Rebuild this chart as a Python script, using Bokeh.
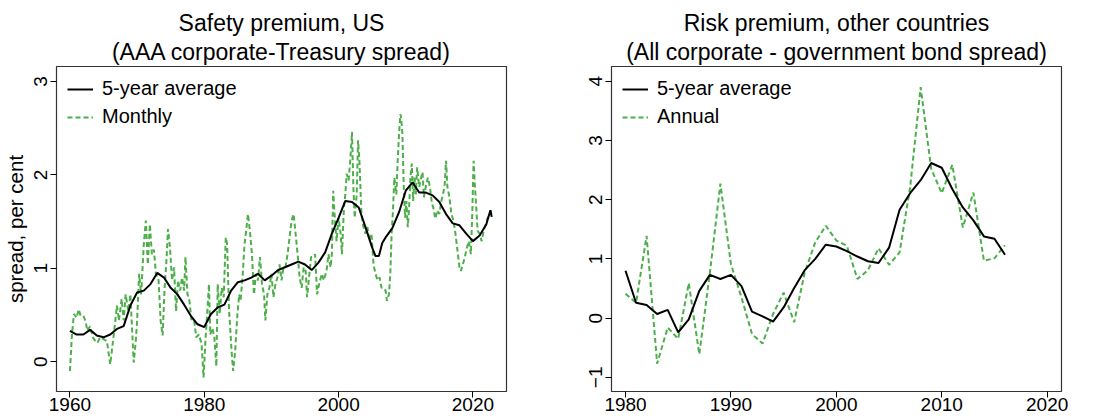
from bokeh.plotting import figure
from bokeh.layouts import row
from bokeh.models import FixedTicker, Range1d, Legend, LegendItem, Title
from bokeh.embed import file_html
from bokeh.resources import INLINE

FONT = "Liberation Sans"
GREEN = "#4daf4a"

# --- US: AAA corporate minus Treasury spread (per cent) ---
us_month_year = [
    1960.0, 1960.3, 1960.6, 1961.0, 1961.3, 1961.6, 1962.0, 1962.3, 1962.6, 1963.0,
    1963.4, 1963.8, 1964.1, 1964.5, 1965.0, 1965.5, 1966.0, 1966.3, 1966.7, 1967.0,
    1967.3, 1967.7, 1968.0, 1968.3, 1968.7, 1969.0, 1969.5, 1969.8, 1970.0, 1970.3,
    1970.6, 1971.0, 1971.3, 1971.6, 1971.9, 1972.2, 1972.5, 1972.8, 1973.2, 1973.5,
    1973.8, 1974.1, 1974.4, 1974.6, 1974.9, 1975.2, 1975.5, 1975.8, 1976.1, 1976.4,
    1976.7, 1977.0, 1977.2, 1977.5, 1977.8, 1978.1, 1978.5, 1978.8, 1979.2, 1979.6,
    1979.9, 1980.2, 1980.4, 1980.7, 1980.9, 1981.2, 1981.5, 1981.8, 1982.0, 1982.3,
    1982.6, 1982.9, 1983.2, 1983.4, 1983.7, 1984.1, 1984.3, 1984.6, 1984.9, 1985.2,
    1985.4, 1985.7, 1986.0, 1986.3, 1986.5, 1986.8, 1987.1, 1987.4, 1987.7, 1988.0,
    1988.3, 1988.6, 1988.9, 1989.1, 1989.4, 1989.7, 1990.0, 1990.3, 1990.6, 1990.9,
    1991.2, 1991.5, 1991.8, 1992.1, 1992.4, 1992.7, 1993.0, 1993.3, 1993.6, 1993.9,
    1994.2, 1994.5, 1994.8, 1995.1, 1995.3, 1995.6, 1995.9, 1996.2, 1996.5, 1996.8,
    1997.1, 1997.5, 1997.8, 1998.2, 1998.5, 1998.8, 1999.0, 1999.2, 1999.4, 1999.7,
    2000.0, 2000.3, 2000.5, 2000.8, 2001.0, 2001.2, 2001.5, 2001.8, 2002.0, 2002.2,
    2002.4, 2002.7, 2002.9, 2003.1, 2003.4, 2003.7, 2004.0, 2004.3, 2004.6, 2004.9,
    2005.2, 2005.5, 2005.8, 2006.1, 2006.4, 2006.7, 2007.0, 2007.2, 2007.5, 2007.7,
    2007.9, 2008.1, 2008.3, 2008.6, 2008.8, 2009.0, 2009.2, 2009.3, 2009.5, 2009.7,
    2009.9, 2010.1, 2010.3, 2010.5, 2010.7, 2010.9, 2011.1, 2011.3, 2011.5, 2011.7,
    2012.0, 2012.2, 2012.5, 2012.7, 2013.0, 2013.3, 2013.6, 2013.9, 2014.1, 2014.4,
    2014.7, 2015.0, 2015.3, 2015.6, 2015.8, 2016.0, 2016.2, 2016.5, 2016.8, 2017.1,
    2017.4, 2017.7, 2018.0, 2018.2, 2018.5, 2018.8, 2019.1, 2019.4, 2019.7, 2019.9,
    2020.1, 2020.3, 2020.5, 2020.7, 2021.0, 2021.3, 2021.6, 2021.9, 2022.2, 2022.5,
    2022.7,
]
us_monthly = [
    -0.10, 0.29, 0.51, 0.47, 0.56, 0.49, 0.49, 0.44, 0.33, 0.38,
    0.26, 0.22, 0.20, 0.26, 0.24, 0.22, -0.03, 0.15, 0.40, 0.60,
    0.44, 0.67, 0.44, 0.72, 0.54, 0.72, -0.01, 0.22, 0.44, 0.94,
    0.72, 1.26, 1.51, 1.04, 1.47, 1.15, 1.20, 0.94, 0.87, 0.44,
    0.28, 0.79, 1.12, 1.42, 1.22, 0.87, 1.01, 0.54, 0.87, 0.76,
    0.90, 0.76, 1.12, 0.72, 0.65, 0.44, 0.44, 0.26, 0.29, 0.19,
    -0.17, 0.26, 0.47, 0.83, 0.29, 0.36, 0.26, -0.05, 0.83, 0.51,
    0.79, 0.69, 1.33, 1.26, 0.54, 0.08, -0.10, 0.11, 0.47, 0.72,
    0.65, 0.90, 1.26, 1.44, 1.58, 1.40, 1.15, 0.72, 0.94, 0.87,
    1.12, 0.83, 0.72, 0.44, 0.72, 0.79, 0.94, 0.69, 0.83, 0.90,
    1.04, 0.87, 1.01, 1.01, 1.15, 1.33, 1.51, 1.58, 1.37, 1.15,
    0.90, 0.79, 1.01, 0.97, 0.69, 0.90, 1.12, 1.12, 1.15, 0.72,
    0.83, 0.94, 0.87, 0.97, 1.15, 1.01, 1.15, 1.83, 1.58, 1.29,
    1.54, 1.37, 1.15, 1.65, 1.79, 2.01, 1.94, 2.22, 2.46, 1.87,
    1.54, 1.79, 2.37, 2.15, 1.58, 1.44, 1.37, 1.44, 1.29, 1.37,
    1.04, 0.94, 0.87, 0.90, 0.79, 0.79, 0.76, 0.65, 0.72, 0.94,
    1.37, 1.62, 1.97, 1.79, 2.15, 2.44, 2.65, 2.62, 2.44, 1.87,
    1.54, 1.72, 1.44, 1.65, 1.97, 2.12, 1.72, 1.97, 1.79, 2.08,
    1.87, 1.94, 2.03, 1.76, 1.88, 1.97, 1.87, 1.69, 1.65, 1.53,
    1.62, 1.58, 1.72, 1.81, 1.90, 2.15, 1.87, 1.76, 1.58, 1.51,
    1.37, 1.19, 1.01, 0.97, 1.04, 1.12, 1.22, 1.29, 1.15, 1.58,
    2.15, 1.87, 1.65, 1.40, 1.37, 1.29, 1.40, 1.47, 1.54, 1.58,
    1.62,
]
us_avg_year = [
    1960.0, 1961.0, 1962.0, 1963.0, 1964.0, 1965.0, 1966.0, 1967.0, 1968.0, 1969.0,
    1970.0, 1971.0, 1972.0, 1973.0, 1974.0, 1975.0, 1976.0, 1977.0, 1978.0, 1979.0,
    1980.0, 1981.0, 1982.0, 1983.0, 1984.0, 1985.0, 1986.0, 1987.0, 1988.0, 1989.0,
    1990.0, 1991.0, 1992.0, 1993.0, 1994.0, 1995.0, 1996.0, 1997.0, 1998.0, 1999.0,
    2000.0, 2001.0, 2002.0, 2003.0, 2004.0, 2005.0, 2005.5, 2006.0, 2006.5, 2007.0,
    2008.0, 2009.0, 2010.0, 2011.0, 2012.0, 2013.0, 2014.0, 2015.0, 2016.0, 2017.0,
    2018.0, 2019.0, 2020.0, 2021.0, 2022.0, 2022.6, 2022.8,
]
us_avg = [
    0.33, 0.29, 0.29, 0.34, 0.28, 0.26, 0.29, 0.35, 0.38, 0.60,
    0.74, 0.76, 0.83, 0.95, 0.90, 0.79, 0.72, 0.61, 0.49, 0.40,
    0.37, 0.51, 0.58, 0.61, 0.76, 0.85, 0.87, 0.90, 0.94, 0.87,
    0.92, 0.98, 1.01, 1.04, 1.07, 1.04, 0.98, 1.06, 1.17, 1.37,
    1.54, 1.72, 1.71, 1.65, 1.44, 1.22, 1.13, 1.13, 1.27, 1.33,
    1.43, 1.60, 1.83, 1.92, 1.81, 1.81, 1.78, 1.71, 1.58, 1.48,
    1.46, 1.37, 1.29, 1.35, 1.47, 1.62, 1.55,
]

# --- Other countries: corporate minus government bond spread (per cent) ---
intl_year = list(range(1980, 2017))
intl_annual = [
    0.41, 0.26, 1.39, -0.77, -0.16, -0.35, 0.59, -0.61, 0.76, 2.27,
    0.91, 0.35, -0.27, -0.43, 0.07, 0.43, -0.07, 0.77, 1.28, 1.56,
    1.31, 1.22, 0.66, 0.81, 1.18, 0.90, 1.11, 2.21, 3.90, 2.52,
    2.11, 2.59, 1.53, 2.12, 0.97, 1.01, 1.23,
]
intl_avg = [
    0.80, 0.26, 0.22, 0.07, 0.14, -0.24, -0.02, 0.46, 0.73, 0.66,
    0.73, 0.54, 0.11, 0.03, -0.06, 0.18, 0.51, 0.81, 1.00, 1.24,
    1.21, 1.13, 1.04, 0.96, 0.93, 1.19, 1.83, 2.11, 2.33, 2.62,
    2.54, 2.18, 1.87, 1.65, 1.38, 1.34, 1.07,
]

us_xticks = [1960, 1980, 2000, 2020]
us_yticks = [0, 1, 2, 3]
intl_xticks = [1980, 1990, 2000, 2010, 2020]
intl_yticks = [-1, 0, 1, 2, 3, 4]


def title_line(text, standoff):
    return Title(text=text, align="center", text_font=FONT, text_font_size="23px",
                 text_font_style="normal", text_color="black", standoff=standoff)


def make_panel(line1, line2, xr, yr, xticks, yticks, border_left, border_right, ylabel=None):
    p = figure(
        width=548, height=419,
        x_range=Range1d(*xr), y_range=Range1d(*yr),
        output_backend="svg", toolbar_location=None,
        min_border_left=border_left, min_border_right=border_right,
        min_border_top=66, min_border_bottom=28,
        background_fill_color="white", border_fill_color="white",
    )
    # two centred title lines, the second one sits next to the frame
    p.add_layout(title_line(line2, 4), "above")
    p.add_layout(title_line(line1, -3), "above")

    p.grid.visible = False
    p.outline_line_color = "#333333"
    p.outline_line_width = 1.2

    for ax in (p.xaxis[0], p.yaxis[0]):
        ax.axis_line_color = None
        ax.major_tick_line_color = "black"
        ax.major_tick_out = 6
        ax.major_tick_in = 0
        ax.minor_tick_line_color = None
        ax.major_label_text_font = FONT
        ax.major_label_text_font_size = "19px"
        ax.major_label_text_color = "black"

    p.xaxis[0].ticker = FixedTicker(ticks=xticks)
    p.xaxis[0].major_label_standoff = 0
    p.yaxis[0].ticker = FixedTicker(ticks=yticks)
    p.yaxis[0].major_label_orientation = "vertical"
    p.yaxis[0].major_label_standoff = 3

    if ylabel:
        p.yaxis[0].axis_label = ylabel
        p.yaxis[0].axis_label_text_font = FONT
        p.yaxis[0].axis_label_text_font_size = "20.5px"
        p.yaxis[0].axis_label_text_font_style = "normal"
        p.yaxis[0].axis_label_text_color = "black"
        p.yaxis[0].axis_label_standoff = 5
    return p


def add_series(p, x_dash, y_dash, dash_name, x_avg, y_avg):
    g = p.line(x_dash, y_dash, line_color=GREEN, line_width=2, line_dash="5 3")
    b = p.line(x_avg, y_avg, line_color="black", line_width=2)
    legend = Legend(
        items=[LegendItem(label="5-year average", renderers=[b]),
               LegendItem(label=dash_name, renderers=[g])],
        location="top_left",
        margin=11, padding=0, spacing=5,
        glyph_width=26, glyph_height=20, label_height=20,
        label_standoff=9,
        label_text_font=FONT, label_text_font_size="20px", label_text_color="black",
        border_line_color=None, background_fill_alpha=0,
    )
    p.add_layout(legend)


left = make_panel("Safety premium, US", "(AAA corporate-Treasury spread)",
                  (1958.0, 2025.0), (-0.32, 3.16), us_xticks, us_yticks,
                  56, 42, ylabel="spread, per cent")
add_series(left, us_month_year, us_monthly, "Monthly", us_avg_year, us_avg)

right = make_panel("Risk premium, other countries", "(All corporate - government bond spread)",
                   (1978.67, 2021.36), (-1.24, 4.25), intl_xticks, intl_yticks,
                   63, 35)
add_series(right, intl_year, intl_annual, "Annual", intl_year, intl_avg)

layout = row(left, right)
open("out.html", "w").write(file_html(layout, INLINE))
